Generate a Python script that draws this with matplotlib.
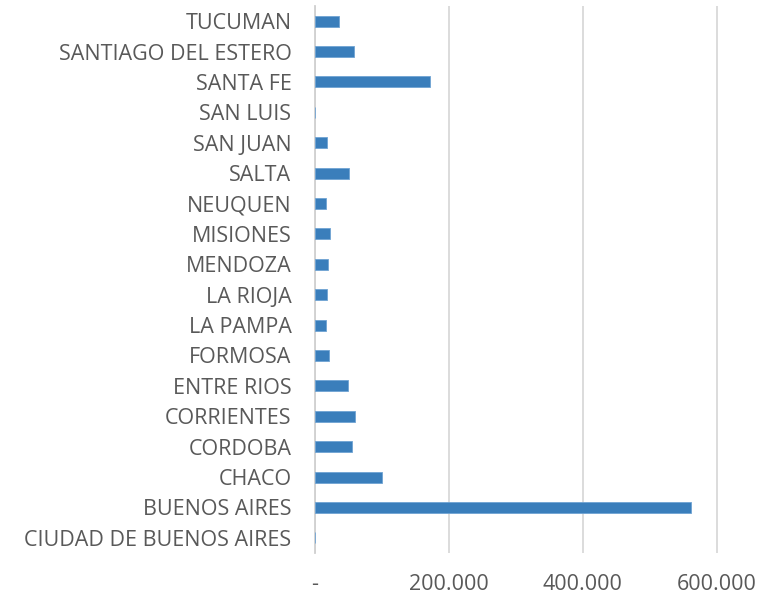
import matplotlib
matplotlib.use('Agg')
import matplotlib.pyplot as plt
from matplotlib.ticker import FuncFormatter

provinces = ['CIUDAD DE BUENOS AIRES', 'BUENOS AIRES', 'CHACO', 'CORDOBA',
             'CORRIENTES', 'ENTRE RIOS', 'FORMOSA', 'LA PAMPA', 'LA RIOJA',
             'MENDOZA', 'MISIONES', 'NEUQUEN', 'SALTA', 'SAN JUAN', 'SAN LUIS',
             'SANTA FE', 'SANTIAGO DEL ESTERO', 'TUCUMAN']
values = [500, 562000, 100000, 55000, 60000, 49000, 21000, 16500, 18500,
          19000, 22000, 17000, 51000, 17500, 600, 172000, 58000, 36500]
x_ticks = [0, 200000, 400000, 600000]

fig = plt.figure(figsize=(7.6, 5.94), dpi=100)
ax = fig.add_axes([0.4145, 0.069, 0.5725, 0.921])

ax.barh(range(len(provinces)), values, height=0.36, color='#3a7ebb',
        edgecolor='#6fa3d3', linewidth=0.6, zorder=3)

ax.set_xlim(0, 650000)
ax.set_ylim(-0.5, len(provinces) - 0.5)
ax.set_yticks(range(len(provinces)))
ax.set_yticklabels(provinces)
ax.set_xticks(x_ticks)

def fmt(v, pos):
    if v == 0:
        return '-'
    return f'{int(v):,}'.replace(',', '.')

ax.xaxis.set_major_formatter(FuncFormatter(fmt))
ax.grid(axis='x', color='#d9d9d9', linewidth=1.3, zorder=0)
for s in ['top', 'right', 'bottom']:
    ax.spines[s].set_visible(False)
ax.spines['left'].set_color('#d0d0d0')
ax.spines['left'].set_linewidth(1.3)
ax.tick_params(axis='both', length=0, colors='#595959')
ax.tick_params(axis='y', pad=17)
ax.tick_params(axis='x', pad=15)
for lbl in ax.get_yticklabels() + ax.get_xticklabels():
    lbl.set_family('Open Sans')
    lbl.set_fontsize(15.5)
    lbl.set_color('#595959')

fig.savefig('out.png', dpi=100, facecolor='white')
